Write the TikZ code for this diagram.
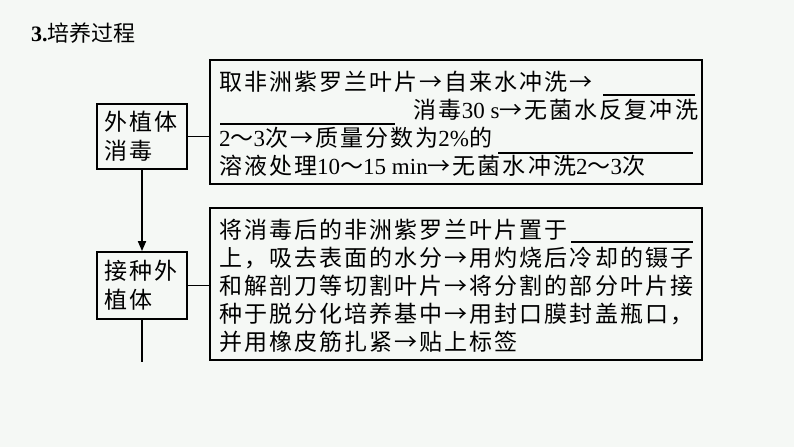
\documentclass[tikz,border=0pt]{standalone}
\usepackage{fontspec}
\setmainfont{Noto Sans CJK SC}
\newfontfamily\cjk{Noto Sans CJK SC}[LetterSpace=9]
\newfontfamily\lat{Liberation Serif}
\usetikzlibrary{arrows.meta}
\definecolor{bgc}{RGB}{245,248,245}
\tikzset{
  box/.style={draw=black, line width=1.8pt, fill=none, inner sep=0pt},
  lbox/.style={box, minimum width=90pt, text width=76pt, align=left, inner sep=0pt,
    font=\cjk\fontsize{23}{29}\selectfont},
  txt/.style={inner sep=0pt, outer sep=0pt, font=\cjk\fontsize{23}{28}\selectfont},
  conn/.style={line width=1.8pt},
  blank/.style={line width=1.4pt}
}
\begin{document}
\begin{tikzpicture}[x=1pt,y=-1pt]
\fill[bgc] (0,0) rectangle (794,447);
\useasboundingbox (0,0) rectangle (794,447);
% title
\node[anchor=west, inner sep=0pt, font=\fontsize{22}{26}\selectfont] (title) at (31,33) {{\lat\bfseries 3.}培养过程};
% left boxes
\node[lbox, minimum height=65pt] (b1) at (142,136.5) {外植体\\消毒};
\node[lbox, minimum height=67pt] (b3) at (142,285.5) {接种外\\植体};
% right boxes
\node[box, minimum width=492pt, minimum height=124pt] (b2) at (456,122) {};
\node[box, minimum width=492pt, minimum height=152pt] (b4) at (456,284) {};
\coordinate (tail) at (142,362);
% connectors
\draw[conn] (b1.east) -- (b1.east -| b2.west);
\draw[conn] (b3.east) -- (b3.east -| b4.west);
\draw[conn, -{Triangle[length=10pt,width=8pt]}] (b1.south) -- (b3.north);
\draw[conn] (b3.south) -- (tail);
% box 2 text
\node[txt, anchor=west] (t21) at (219,82) {取非洲紫罗兰叶片→自来水冲洗→};
\node[txt, anchor=east] (t22) at (698,110) {消毒{\lat 30 s}→无菌水反复冲洗};
\node[txt, anchor=west] (t23) at (219,138) {{\lat 2}～{\lat 3}次→质量分数为{\lat 2\%}的};
\node[txt, anchor=west] (t24) at (219,166) {溶液处理{\lat 10}～{\lat 15 min}→无菌水冲洗{\lat 2}～{\lat 3}次};
\draw[blank] (603,95) -- (695,95);
\draw[blank] (220,124) -- (395,124);
\draw[blank] (498,153) -- (693,153);
% box 4 text
\node[txt, anchor=west] (t41) at (219,230) {将消毒后的非洲紫罗兰叶片置于};
\node[txt, anchor=west] (t42) at (219,258) {上，吸去表面的水分→用灼烧后冷却的镊子};
\node[txt, anchor=west] (t43) at (219,286) {和解剖刀等切割叶片→将分割的部分叶片接};
\node[txt, anchor=west] (t44) at (219,314) {种于脱分化培养基中→用封口膜封盖瓶口，};
\node[txt, anchor=west] (t45) at (219,342) {并用橡皮筋扎紧→贴上标签};
\draw[blank] (571,242) -- (693,242);
\end{tikzpicture}
\end{document}
